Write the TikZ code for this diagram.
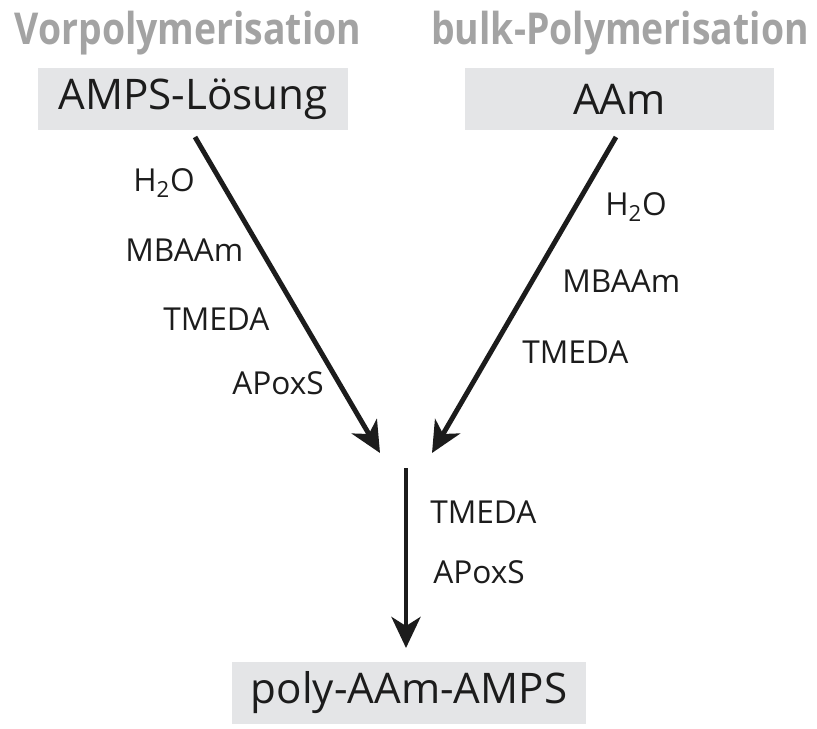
\documentclass[tikz,border=0pt]{standalone}
\usepackage{fontspec}
\setmainfont{Open Sans}
\newfontfamily\titlefont[FakeStretch=0.85]{Open Sans Bold}
\usepackage{tikz}
\usetikzlibrary{arrows.meta,positioning}
\definecolor{titlegray}{HTML}{A3A3A3}
\definecolor{boxgray}{HTML}{E4E5E7}
\definecolor{inkblack}{HTML}{1C1C1C}
\tikzset{
  poly scheme/.style = {
    x=0.02cm, y=-0.02cm,
    % Ueberschriften
    titel/.style  = {font=\titlefont\fontsize{25}{25}\selectfont, text=titlegray, inner sep=0pt},
    % Stoffkaesten
    stoff/.style  = {fill=boxgray, inner sep=0pt, minimum height=1.24cm,
                     font=\fontsize{24}{24}\selectfont, text=inkblack},
    % Reagenzien an den Pfeilen
    reag/.style   = {font=\fontsize{18}{18}\selectfont, text=inkblack, inner sep=0pt, anchor=west},
    % Pfeile
    reakt line/.style = {line width=2.8pt, inkblack,
                         -{Stealth[length=6.2mm, width=5.8mm, inset=1.8mm]}},
  }
}
\begin{document}
\begin{tikzpicture}[poly scheme]
\useasboundingbox (0,0) rectangle (817,729);

\node[titel] (vorpoly)  at (188,33) {Vorpolymerisation};
\node[titel] (bulkpoly) at (620,33) {bulk-Polymerisation};

\node[stoff, minimum width=6.2cm]  (amps) at (193,99)   {AMPS-Lösung};
\node[stoff, minimum width=6.18cm] (aam)  at (619.5,99) {AAm};
\node[stoff, minimum width=7.08cm] (poly) at (409,693)  {poly-AAm-AMPS};

\coordinate (links-a)  at (195,137);
\coordinate (links-b)  at (380,453);
\coordinate (rechts-a) at (616,137);
\coordinate (rechts-b) at (432,453);
\coordinate (mitte-a)  at (406,468);
\coordinate (mitte-b)  at (406,648);

\draw[reakt line] (links-a)  -- (links-b);
\draw[reakt line] (rechts-a) -- (rechts-b);
\draw[reakt line] (mitte-a)  -- (mitte-b);

% linker Zweig
\node[reag] (l1) at (133,183) {H\textsubscript{2}O};
\node[reag] (l2) at (125,250) {MBAAm};
\node[reag] (l3) at (163,319) {TMEDA};
\node[reag] (l4) at (232,383) {APoxS};
% rechter Zweig
\node[reag] (r1) at (605,207) {H\textsubscript{2}O};
\node[reag] (r2) at (562,281) {MBAAm};
\node[reag] (r3) at (522,352) {TMEDA};
% unten
\node[reag] (m1) at (430,512) {TMEDA};
\node[reag] (m2) at (433,572) {APoxS};
\end{tikzpicture}
\end{document}
